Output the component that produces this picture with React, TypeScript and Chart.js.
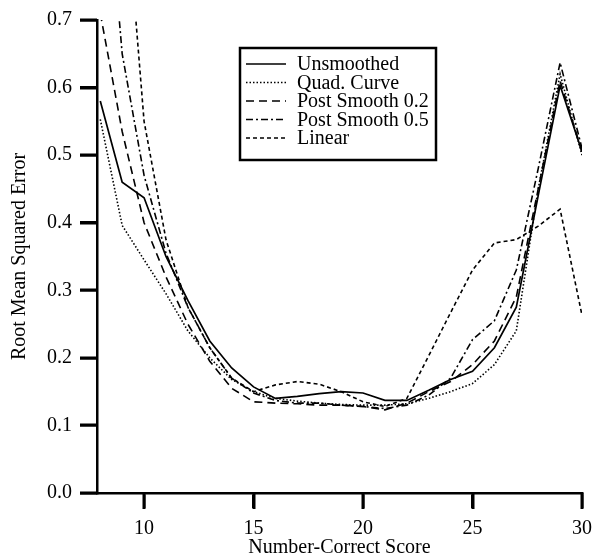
import React, { useEffect, useRef } from "react";
import { Chart, registerables } from "chart.js";

Chart.register(...registerables);

const scores = [8, 9, 10, 11, 12, 13, 14, 15, 16, 17, 18, 19, 20, 21, 22, 23, 24, 25, 26, 27, 28, 29, 30];

const unsmoothed = [0.58, 0.46, 0.437, 0.35, 0.285, 0.225, 0.185, 0.157, 0.14, 0.143, 0.147, 0.15, 0.148, 0.137, 0.137, 0.152, 0.168, 0.18, 0.215, 0.275, 0.44, 0.603, 0.505];
const quadCurve = [0.553, 0.396, 0.345, 0.295, 0.24, 0.2, 0.168, 0.15, 0.14, 0.136, 0.133, 0.131, 0.13, 0.13, 0.132, 0.14, 0.15, 0.162, 0.19, 0.24, 0.45, 0.62, 0.5];
const postSmooth02 = [0.71, 0.535, 0.4, 0.32, 0.25, 0.195, 0.155, 0.135, 0.133, 0.132, 0.13, 0.13, 0.128, 0.123, 0.133, 0.15, 0.165, 0.19, 0.225, 0.29, 0.45, 0.61, 0.505];
const postSmooth05 = [1.03, 0.65, 0.47, 0.355, 0.275, 0.215, 0.17, 0.148, 0.137, 0.133, 0.133, 0.13, 0.128, 0.125, 0.13, 0.145, 0.17, 0.227, 0.255, 0.33, 0.48, 0.637, 0.51];
const linear = [1.4, 0.95, 0.55, 0.375, 0.275, 0.215, 0.17, 0.15, 0.16, 0.165, 0.161, 0.15, 0.135, 0.128, 0.14, 0.203, 0.267, 0.33, 0.37, 0.375, 0.395, 0.42, 0.263];

const seriesNames = ["Unsmoothed", "Quad. Curve", "Post Smooth 0.2", "Post Smooth 0.5", "Linear"];
const xTicks = [10, 15, 20, 25, 30];
const yTicks = [0, 0.1, 0.2, 0.3, 0.4, 0.5, 0.6, 0.7];

const dashes: number[][] = [[], [1.5, 2], [8, 5], [7, 3, 2, 3], [4, 3]];
const FONT = "'Liberation Serif', 'Times New Roman', serif";

const overlayPlugin = {
  id: "overlay",
  afterDraw(chart: any) {
    const ctx = chart.ctx;
    const xs = chart.scales.x;
    const ys = chart.scales.y;
    const area = chart.chartArea;
    ctx.save();
    // tick marks, drawn as filled rectangles
    ctx.fillStyle = "#000";
    xTicks.forEach((v) => {
      const px = Math.round(xs.getPixelForValue(v));
      ctx.fillRect(px - 1.5, area.bottom, 3, 16);
    });
    yTicks.forEach((v) => {
      const py = Math.round(ys.getPixelForValue(v));
      ctx.fillRect(area.left - 17, py - 1.5, 17, 3);
    });
    // legend box
    const bx = 240, by = 48, bw = 196, bh = 112;
    ctx.fillStyle = "#fff";
    ctx.fillRect(bx, by, bw, bh);
    ctx.strokeStyle = "#000";
    ctx.lineWidth = 2.5;
    ctx.setLineDash([]);
    ctx.strokeRect(bx, by, bw, bh);
    ctx.font = `20px ${FONT}`;
    ctx.textBaseline = "middle";
    ctx.textAlign = "left";
    chart.data.datasets.forEach((ds: any, i: number) => {
      const y = 64 + i * 18.5;
      ctx.beginPath();
      ctx.lineWidth = 1.5;
      ctx.setLineDash(ds.borderDash || []);
      ctx.moveTo(246, y);
      ctx.lineTo(286, y);
      ctx.stroke();
      ctx.setLineDash([]);
      ctx.fillStyle = "#000";
      ctx.fillText(ds.label, 297, y + 1);
    });
    ctx.restore();
  },
};

export default function App() {
  const ref = useRef<HTMLCanvasElement>(null);
  useEffect(() => {
    const all = [unsmoothed, quadCurve, postSmooth02, postSmooth05, linear];
    const chart = new Chart(ref.current!, {
      type: "line",
      data: {
        labels: scores,
        datasets: all.map((vals, i) => ({
          label: seriesNames[i],
          data: scores.map((x, j) => ({ x, y: vals[j] })),
          borderColor: "#000",
          borderWidth: i === 0 ? 1.7 : 1.6,
          borderDash: dashes[i],
          pointRadius: 0,
          tension: 0,
          fill: false,
        })),
      },
      options: {
        animation: false,
        responsive: false,
        devicePixelRatio: 1,
        layout: { padding: { top: 17, right: 13, left: 0, bottom: 0 } },
        plugins: { legend: { display: false }, tooltip: { enabled: false } },
        scales: {
          x: {
            type: "linear",
            min: 7.85,
            max: 30,
            afterBuildTicks: (s: any) => {
              s.ticks = xTicks.map((v) => ({ value: v }));
            },
            afterFit: (s: any) => {
              s.height = 67;
            },
            border: { display: true, color: "#000", width: 2.5 },
            grid: { display: true, drawOnChartArea: false, drawTicks: true, tickLength: 15, tickWidth: 2.5, tickColor: "#000", color: "#000", lineWidth: 2.5 },
            ticks: { color: "#000", font: { family: FONT, size: 20 }, padding: 9, maxRotation: 0 },
            title: { display: true, text: "Number-Correct Score", color: "#000", font: { family: FONT, size: 20 }, padding: { top: 0, bottom: 0 } },
          },
          y: {
            type: "linear",
            min: 0,
            max: 0.7,
            afterBuildTicks: (s: any) => {
              s.ticks = yTicks.map((v) => ({ value: v }));
            },
            afterFit: (s: any) => {
              s.width = 97;
            },
            border: { display: true, color: "#000", width: 2.5 },
            grid: { display: true, drawOnChartArea: false, drawTicks: true, tickLength: 17, tickWidth: 2.5, tickColor: "#000", color: "#000", lineWidth: 2.5 },
            ticks: {
              color: "#000",
              font: { family: FONT, size: 20 },
              padding: 8,
              callback: (v: any) => Number(v).toFixed(1),
            },
            title: { display: true, text: "Root Mean Squared Error", color: "#000", font: { family: FONT, size: 20 }, padding: { top: 8, bottom: 0 } },
          },
        },
      },
      plugins: [overlayPlugin],
    } as any);
    return () => chart.destroy();
  }, []);
  return (
    <div style={{ position: "fixed", left: 0, top: 0, width: 601, height: 560, background: "#fff" }}>
      <canvas ref={ref} width={601} height={560} style={{ width: 601, height: 560 }} />
    </div>
  );
}
